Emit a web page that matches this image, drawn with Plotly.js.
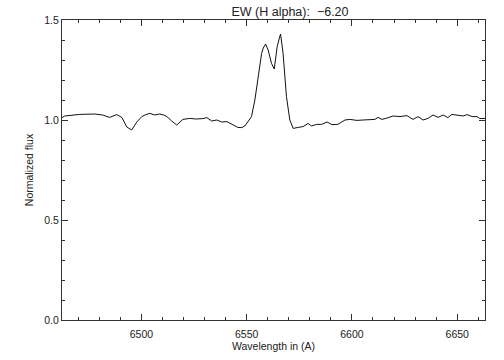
<!DOCTYPE html>
<html>
<head>
<meta charset="utf-8">
<script src="https://cdn.plot.ly/plotly-3.0.1.min.js"></script>
<style>html,body{margin:0;padding:0;background:#fff;}#chart{width:504px;height:360px;}</style>
</head>
<body>
<div id="chart"></div>
<script>
const titleText = "EW (H alpha):  \u22126.20";
const xTitle = "Wavelength in (A)";
const yTitle = "Normalized flux";

const wavelength = [6462.3,6463.6,6470.7,6477.8,6481.6,6484.9,6488.3,6490.7,6493.1,6495.4,6497.8,6500.2,6502.1,6504.0,6506.4,6508.7,6510.6,6512.1,6514.4,6516.8,6519.7,6523.0,6525.8,6529.2,6531.1,6533.4,6535.8,6538.2,6540.6,6542.9,6545.8,6547.7,6549.1,6550.5,6552.3,6553.9,6555.5,6557.1,6557.9,6559.0,6560.2,6561.8,6563.1,6564.5,6565.3,6566.1,6567.3,6568.9,6570.5,6572.1,6574.5,6576.8,6579.2,6580.8,6583.2,6585.6,6588.2,6590.5,6593.3,6596.7,6599.0,6602.4,6605.2,6608.5,6610.9,6612.4,6614.3,6616.7,6619.5,6622.8,6626.1,6629.0,6631.4,6633.8,6636.1,6638.5,6640.9,6643.3,6645.6,6647.5,6650.4,6652.8,6654.7,6657.1,6659.4,6660.8,6663.2];
const flux = [1.012,1.020,1.028,1.030,1.025,1.013,1.027,1.013,0.965,0.950,0.990,1.017,1.027,1.033,1.025,1.030,1.025,1.017,0.995,0.975,1.003,1.008,1.005,1.007,1.012,0.995,1.000,0.990,0.992,0.978,0.963,0.962,0.970,0.990,1.017,1.100,1.217,1.333,1.360,1.380,1.350,1.283,1.255,1.367,1.400,1.430,1.333,1.117,1.000,0.958,0.963,0.967,0.983,0.970,0.978,0.978,0.990,0.977,0.978,1.000,1.003,0.998,1.000,1.000,1.003,1.013,1.003,1.010,1.020,1.017,1.022,1.003,1.017,1.000,1.008,1.025,1.013,1.025,1.012,1.028,1.025,1.020,1.027,1.017,1.017,1.007,1.008];

const xTickVals = [6500,6550,6600,6650];
const yTickVals = [0.0,0.5,1.0,1.5];

const font = {family: "Liberation Sans, Arial, sans-serif", size: 10.5, color: "#222"};
const axisCommon = {
  showgrid: false, zeroline: false, showline: true, linecolor: "#333", linewidth: 1,
  mirror: "allticks", ticks: "inside", ticklen: 6, tickcolor: "#333", tickwidth: 1,
  tickfont: font
};

Plotly.newPlot("chart", [{
  x: wavelength, y: flux, type: "scatter", mode: "lines",
  line: {color: "#111", width: 1}, hoverinfo: "skip"
}], {
  width: 504, height: 360,
  margin: {l: 62, r: 19, t: 20, b: 40},
  paper_bgcolor: "#fff", plot_bgcolor: "#fff",
  showlegend: false,
  font: font,
  title: {text: titleText, font: {family: font.family, size: 12.5, color: "#222"},
          x: 0.539, xref: "paper", xanchor: "center", y: 0.969, yref: "container", yanchor: "middle"},
  xaxis: Object.assign({}, axisCommon, {
    range: [6462.3, 6663.2], tickvals: xTickVals, ticktext: xTickVals.map(String),
    ticklabelstandoff: 4,
    minor: {dtick: 10, tick0: 6500, ticklen: 3, ticks: "inside", tickcolor: "#333"},
    title: {text: xTitle, font: font, standoff: 2}
  }),
  yaxis: Object.assign({}, axisCommon, {
    range: [0, 1.5], tickvals: yTickVals, ticktext: yTickVals.map(v => v.toFixed(1)),
    minor: {dtick: 0.1, tick0: 0, ticklen: 3, ticks: "inside", tickcolor: "#333"},
    title: {text: yTitle, font: font, standoff: 8}
  })
}, {staticPlot: true, displayModeBar: false});
</script>
</body>
</html>
